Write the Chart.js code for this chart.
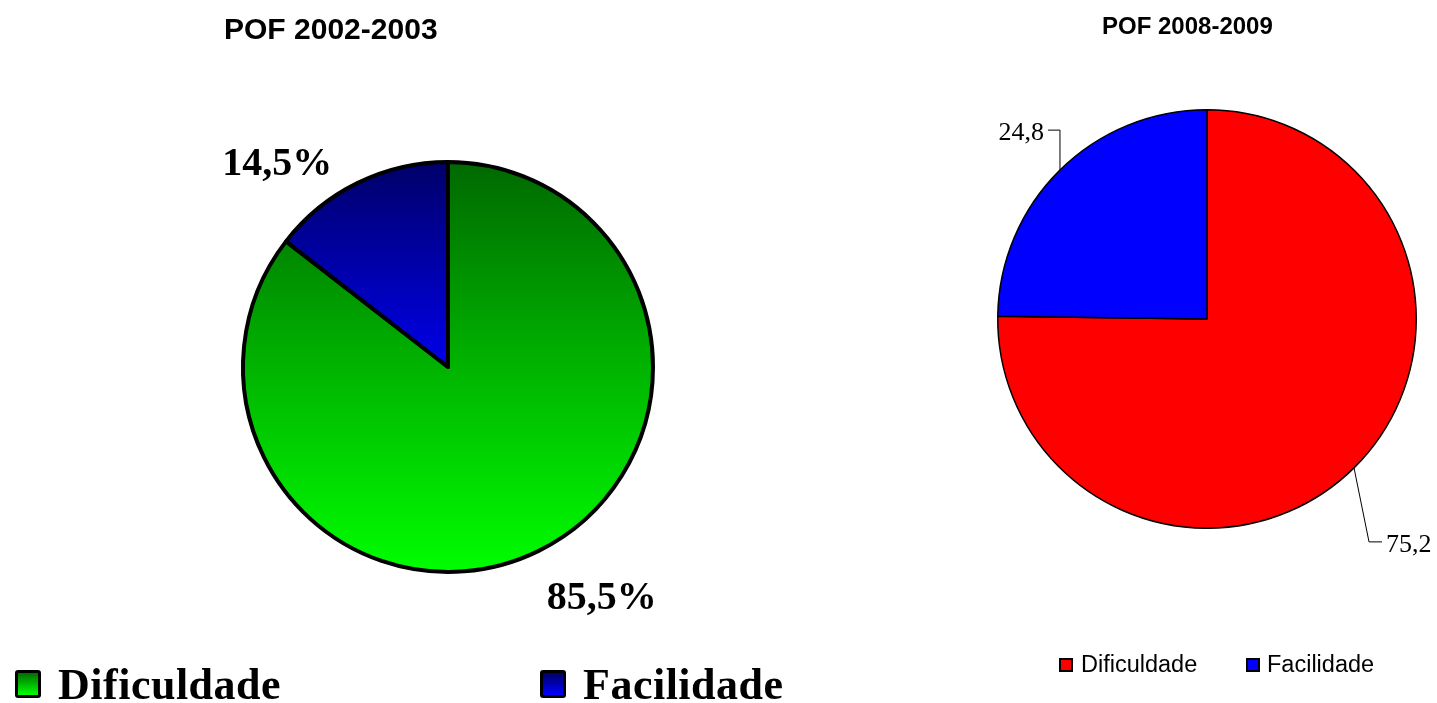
<!DOCTYPE html>
<html>
<head>
<meta charset="utf-8">
<script src="https://cdn.jsdelivr.net/npm/chart.js@4.4.1/dist/chart.umd.min.js"></script>
<style>
  html, body { margin: 0; padding: 0; background: #fff; }
  body { width: 1437px; height: 703px; position: relative; overflow: hidden; }
  .box { position: absolute; }
  .title { position: absolute; font-family: "Liberation Sans", Arial, sans-serif; font-weight: bold; color: #000;
           white-space: nowrap; transform-origin: left top; }
  .leg { position: absolute; white-space: nowrap; color: #000; transform-origin: left top; }
  .sw { position: absolute; box-sizing: border-box; border: 2px solid #000; }
</style>
</head>
<body>
<div class="box" id="wrapA" style="left:0;top:0;width:860px;height:703px;"><canvas id="pie2002"></canvas></div>
<div class="box" id="wrapB" style="left:900px;top:0;width:537px;height:703px;"><canvas id="pie2008"></canvas></div>

<div class="title" id="titleA" style="left:224px;top:13px;font-size:29px;transform:scaleX(1.035);"></div>
<div class="title" id="titleB" style="left:1102px;top:12px;font-size:24px;"></div>

<div class="sw" style="left:15px;top:670px;width:26px;height:28px;border-width:3px;border-radius:3px;background:linear-gradient(#006e00,#00ff00);"></div>
<div class="leg" id="legA0" style="left:58px;top:659px;font:bold 44px 'Liberation Serif',serif;letter-spacing:0.5px;"></div>
<div class="sw" style="left:540px;top:670px;width:26px;height:28px;border-width:3px;border-radius:3px;background:linear-gradient(#000066,#0000ff);"></div>
<div class="leg" id="legA1" style="left:583px;top:659px;font:bold 44px 'Liberation Serif',serif;letter-spacing:0.5px;"></div>

<div class="sw" style="left:1059px;top:658px;width:14px;height:14px;border-width:2px;background:#ff0000;"></div>
<div class="leg" id="legB0" style="left:1081px;top:651px;font:23.5px 'Liberation Sans',Arial,sans-serif;"></div>
<div class="sw" style="left:1246px;top:658px;width:14px;height:14px;border-width:2px;background:#0000ff;"></div>
<div class="leg" id="legB1" style="left:1267px;top:651px;font:23.5px 'Liberation Sans',Arial,sans-serif;"></div>

<script>
// data
const categories = ['Dificuldade', 'Facilidade'];
const titles = ['POF 2002-2003', 'POF 2008-2009'];
const values2002 = [85.5, 14.5];
const values2008 = [75.2, 24.8];

const fmt = (v) => v.toFixed(1).replace('.', ',');

document.getElementById('titleA').textContent = titles[0];
document.getElementById('titleB').textContent = titles[1];
document.getElementById('legA0').textContent = categories[0];
document.getElementById('legA1').textContent = categories[1];
document.getElementById('legB0').textContent = categories[0];
document.getElementById('legB1').textContent = categories[1];

// vertical gradients: green spans the whole pie, blue only the upper half
const gradStops = [['#006800', '#00ff00', true], ['#000068', '#0000ea', false]];
function sliceGradient(c) {
    const chart = c.chart;
    const area = chart.chartArea;
    const [from, to, full] = gradStops[c.dataIndex];
    if (!area) return to;
    const cy = (area.top + area.bottom) / 2;
    const r = Math.min(area.width, area.height) / 2;
    const g = chart.ctx.createLinearGradient(0, cy - r, 0, full ? cy + r : cy);
    g.addColorStop(0, from);
    g.addColorStop(1, to);
    return g;
}

// outside labels for the 2002 chart, offsets relative to a point on the mid angle
const offsets2002 = [[41, 2], [-58, 28]];
const labelsA = {
    id: 'labelsA',
    afterDatasetsDraw(chart) {
        const ctx = chart.ctx;
        const meta = chart.getDatasetMeta(0);
        ctx.save();
        ctx.font = 'bold 40px "Liberation Serif", serif';
        ctx.fillStyle = '#000';
        ctx.textAlign = 'center';
        ctx.textBaseline = 'middle';
        meta.data.forEach((arc, i) => {
            const mid = (arc.startAngle + arc.endAngle) / 2;
            const r = arc.outerRadius * 1.25;
            const x = arc.x + Math.cos(mid) * r + offsets2002[i][0];
            const y = arc.y + Math.sin(mid) * r + offsets2002[i][1];
            ctx.fillText(fmt(values2002[i]) + '%', x, y);
        });
        ctx.restore();
    }
};

// leader lines for the 2008 chart: elbow offset from the edge, then a short horizontal tick
const leaders2008 = [[15, 74, 13], [0, -40, -12]];
const labelsB = {
    id: 'labelsB',
    afterDatasetsDraw(chart) {
        const ctx = chart.ctx;
        const meta = chart.getDatasetMeta(0);
        ctx.save();
        ctx.font = '26px "Liberation Serif", serif';
        ctx.fillStyle = '#000';
        ctx.strokeStyle = '#000';
        ctx.lineWidth = 1;
        ctx.textBaseline = 'middle';
        meta.data.forEach((arc, i) => {
            const mid = (arc.startAngle + arc.endAngle) / 2;
            const ex = arc.x + Math.cos(mid) * arc.outerRadius;
            const ey = arc.y + Math.sin(mid) * arc.outerRadius;
            const [dx, dy, h] = leaders2008[i];
            const bx = ex + dx, by = ey + dy;
            ctx.beginPath();
            ctx.moveTo(ex, ey);
            ctx.lineTo(bx, by);
            ctx.lineTo(bx + h, by);
            ctx.stroke();
            ctx.textAlign = h > 0 ? 'left' : 'right';
            ctx.fillText(fmt(values2008[i]), bx + h + (h > 0 ? 4 : -4), by + 3);
        });
        ctx.restore();
    }
};

const baseOptions = {
    responsive: true,
    maintainAspectRatio: false,
    animation: false,
    plugins: { legend: { display: false }, tooltip: { enabled: false }, title: { display: false } }
};

new Chart(document.getElementById('pie2002'), {
    type: 'pie',
    data: {
        labels: categories,
        datasets: [{
            data: values2002,
            backgroundColor: sliceGradient,
            borderColor: '#000',
            borderWidth: 4,
            borderJoinStyle: 'round'
        }]
    },
    options: { ...baseOptions, layout: { padding: { left: 241, right: 205, top: 160, bottom: 129 } } },
    plugins: [labelsA]
});

new Chart(document.getElementById('pie2008'), {
    type: 'pie',
    data: {
        labels: categories,
        datasets: [{
            data: values2008,
            backgroundColor: ['#ff0000', '#0000ff'],
            borderColor: '#000',
            borderWidth: 1.5
        }]
    },
    options: { ...baseOptions, layout: { padding: { left: 97, right: 20, top: 109, bottom: 174 } } },
    plugins: [labelsB]
});
</script>
</body>
</html>
